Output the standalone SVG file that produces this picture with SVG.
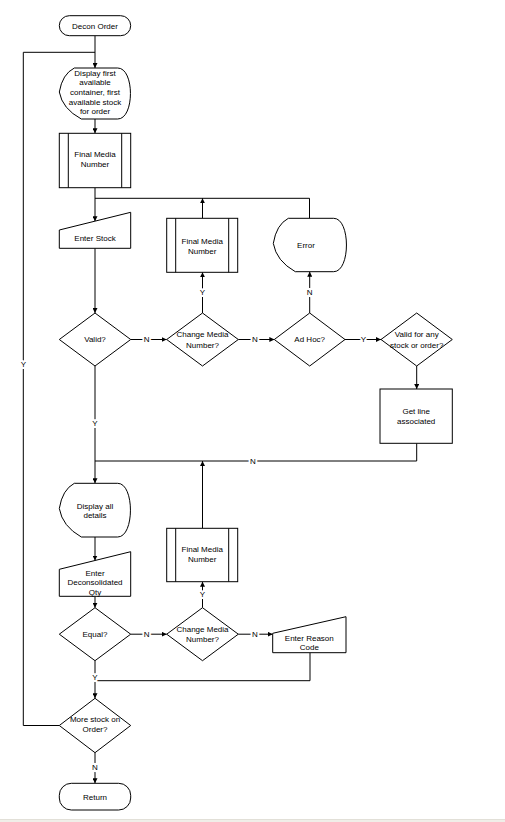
<svg xmlns="http://www.w3.org/2000/svg" width="505" height="822" viewBox="0 0 505 822">
<style>
.s{fill:#fff;stroke:#000;stroke-width:1}
.c{fill:none;stroke:#000;stroke-width:1}
.t{font-family:"Liberation Sans",Arial,sans-serif;font-size:8px;fill:#000;text-anchor:middle}
.l{font-family:"Liberation Sans",Arial,sans-serif;font-size:8px;fill:#000;text-anchor:middle;paint-order:stroke;stroke:#fff;stroke-width:4px}
</style>
<defs>
<marker id="ah" viewBox="0 0 8 8" refX="8" refY="4" markerWidth="5" markerHeight="5" orient="auto" markerUnits="userSpaceOnUse"><path d="M0,0 L8,4 L0,8 z" fill="#000"/></marker>
</defs>
<rect x="0" y="0" width="505" height="822" fill="#fff"/>
<rect x="0" y="819" width="505" height="3" fill="#f0eee8"/>
<line x1="0" y1="819.5" x2="505" y2="819.5" stroke="#e2e0d8" stroke-width="1"/>

<g id="connectors">
<path class="c" d="M95,35.7 V68" marker-end="url(#ah)"/>
<path class="c" d="M59.3,725.5 H23.3 V52.3 H95"/>
<path class="c" d="M95,119 V133.3" marker-end="url(#ah)"/>
<path class="c" d="M95,187.7 V221.2" marker-end="url(#ah)"/>
<path class="c" d="M309.5,218.3 V198.3 H95"/>
<path class="c" d="M95,248.3 V313" marker-end="url(#ah)"/>
<path class="c" d="M130.7,339.5 H166.7" marker-end="url(#ah)"/>
<path class="c" d="M202.5,313 V272.3" marker-end="url(#ah)"/>
<path class="c" d="M202.5,218.3 V198.3" marker-end="url(#ah)"/>
<path class="c" d="M238.3,339.5 H274.3" marker-end="url(#ah)"/>
<path class="c" d="M309.7,313 V271.7" marker-end="url(#ah)"/>
<path class="c" d="M345,339.5 H381" marker-end="url(#ah)"/>
<path class="c" d="M416.7,366 V389" marker-end="url(#ah)"/>
<path class="c" d="M416.7,443.3 V461 H95"/>
<path class="c" d="M95,366 V483.3" marker-end="url(#ah)"/>
<path class="c" d="M202.5,528.3 V461" marker-end="url(#ah)"/>
<path class="c" d="M95,537 V560.5" marker-end="url(#ah)"/>
<path class="c" d="M95,596.3 V607.7" marker-end="url(#ah)"/>
<path class="c" d="M130.7,634.2 H166.7" marker-end="url(#ah)"/>
<path class="c" d="M202.5,607.7 V581.7" marker-end="url(#ah)"/>
<path class="c" d="M238.3,634.2 H272.7" marker-end="url(#ah)"/>
<path class="c" d="M310,652.7 V680.7 H95"/>
<path class="c" d="M95,660.7 V698.3" marker-end="url(#ah)"/>
<path class="c" d="M95,752.7 V783.3" marker-end="url(#ah)"/>
<text class="l" x="23.3" y="367">Y</text>
<text class="l" x="146.7" y="342.3">N</text>
<text class="l" x="202.5" y="294.5">Y</text>
<text class="l" x="255" y="342.3">N</text>
<text class="l" x="309.7" y="294.5">N</text>
<text class="l" x="363.3" y="342.3">Y</text>
<text class="l" x="253" y="463.8">N</text>
<text class="l" x="95" y="425.5">Y</text>
<text class="l" x="146.7" y="637">N</text>
<text class="l" x="202.5" y="597">Y</text>
<text class="l" x="255" y="637">N</text>
<text class="l" x="95" y="680">Y</text>
<text class="l" x="95" y="769.5">N</text>
</g>

<g id="decon-order">
<rect class="s" x="59.3" y="15.7" width="71.4" height="20" rx="10"/>
<text class="t" x="95" y="28.5">Decon Order</text>
</g>
<g id="display-first">
<path class="s" d="M74.3,68 L117.7,68 C134.7,68 134.7,119 117.7,119 L81.3,119 Q62.3,108.8 59.3,92 Q62.3,74.1 74.3,68 Z"/>
<text class="t" x="95" y="75.8">Display first</text>
<text class="t" x="95" y="85.4">available</text>
<text class="t" x="95" y="95">container, first</text>
<text class="t" x="95" y="104.6">available stock</text>
<text class="t" x="95" y="114.2">for order</text>
</g>
<g id="final-media-1">
<rect class="s" x="59.3" y="133.3" width="71.4" height="54.4"/>
<path class="c" d="M68.3,133.3 V187.7 M121.7,133.3 V187.7"/>
<text class="t" x="95" y="157">Final Media</text>
<text class="t" x="95" y="167">Number</text>
</g>
<g id="enter-stock">
<polygon class="s" points="59.3,230 130.7,212.3 130.7,248.3 59.3,248.3"/>
<text class="t" x="95" y="240.5">Enter Stock</text>
</g>
<g id="valid">
<polygon class="s" points="95,313 130.7,339.5 95,366 59.3,339.5"/>
<text class="t" x="95" y="342.3">Valid?</text>
</g>
<g id="change-media-1">
<polygon class="s" points="202.5,313 238.3,339.5 202.5,366 166.7,339.5"/>
<text class="t" x="202.5" y="337">Change Media</text>
<text class="t" x="202.5" y="347.5">Number?</text>
</g>
<g id="final-media-2">
<rect class="s" x="166.7" y="218.3" width="71" height="54"/>
<path class="c" d="M175.7,218.3 V272.3 M228.7,218.3 V272.3"/>
<text class="t" x="202.2" y="243.5">Final Media</text>
<text class="t" x="202.2" y="253.8">Number</text>
</g>
<g id="error">
<path class="s" d="M288.3,218.3 L333.7,218.3 C350.7,218.3 350.7,271.7 333.7,271.7 L295.3,271.7 Q276.3,261 273.3,243.4 Q276.3,224.7 288.3,218.3 Z"/>
<text class="t" x="306" y="247.8">Error</text>
</g>
<g id="ad-hoc">
<polygon class="s" points="309.7,313 345,339.5 309.7,366 274.3,339.5"/>
<text class="t" x="309.7" y="342.3">Ad Hoc?</text>
</g>
<g id="valid-any">
<polygon class="s" points="416.7,313 452.3,339.5 416.7,366 381,339.5"/>
<text class="t" x="416.7" y="337">Valid for any</text>
<text class="t" x="416.7" y="347.5">stock or order?</text>
</g>
<g id="get-line">
<rect class="s" x="380" y="389" width="72.3" height="54.3"/>
<text class="t" x="416.2" y="413.5">Get line</text>
<text class="t" x="416.2" y="423.5">associated</text>
</g>
<g id="display-all">
<path class="s" d="M74.3,483.3 L117.7,483.3 C134.7,483.3 134.7,537 117.7,537 L81.3,537 Q62.3,526.3 59.3,508.5 Q62.3,489.7 74.3,483.3 Z"/>
<text class="t" x="95" y="509">Display all</text>
<text class="t" x="95" y="518">details</text>
</g>
<g id="enter-decon">
<polygon class="s" points="59.3,569.3 130.7,551.7 130.7,596.3 59.3,596.3"/>
<text class="t" x="95" y="575.5">Enter</text>
<text class="t" x="95" y="585">Deconsolidated</text>
<text class="t" x="95" y="594.5">Qty</text>
</g>
<g id="final-media-3">
<rect class="s" x="166.7" y="528.3" width="71" height="53.4"/>
<path class="c" d="M175.7,528.3 V581.7 M228.7,528.3 V581.7"/>
<text class="t" x="202.2" y="552">Final Media</text>
<text class="t" x="202.2" y="562">Number</text>
</g>
<g id="equal">
<polygon class="s" points="95,607.7 130.7,634.2 95,660.7 59.3,634.2"/>
<text class="t" x="95" y="637">Equal?</text>
</g>
<g id="change-media-2">
<polygon class="s" points="202.5,607.7 238.3,634.2 202.5,660.7 166.7,634.2"/>
<text class="t" x="202.5" y="632">Change Media</text>
<text class="t" x="202.5" y="642">Number?</text>
</g>
<g id="enter-reason">
<polygon class="s" points="272.7,633.3 346,616.7 346,652.7 272.7,652.7"/>
<text class="t" x="309.3" y="640.5">Enter Reason</text>
<text class="t" x="309.3" y="650">Code</text>
</g>
<g id="more-stock">
<polygon class="s" points="95,698.3 130.7,725.5 95,752.7 59.3,725.5"/>
<text class="t" x="95" y="722">More stock on</text>
<text class="t" x="95" y="732">Order?</text>
</g>
<g id="return">
<rect class="s" x="59.3" y="783.3" width="71.4" height="26.7" rx="12"/>
<text class="t" x="95" y="799.5">Return</text>
</g>
</svg>
